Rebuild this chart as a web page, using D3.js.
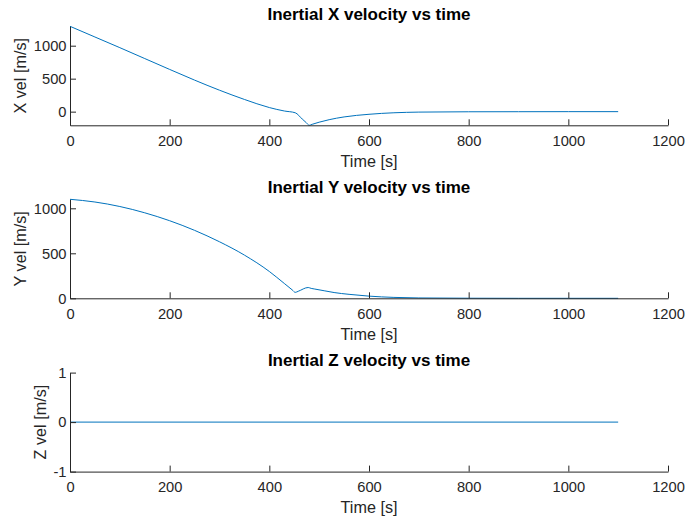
<!DOCTYPE html>
<html>
<head>
<meta charset="utf-8">
<script src="https://cdn.jsdelivr.net/npm/d3@7"></script>
<style>
  body { margin: 0; background: #fff; }
  svg { font-family: "Liberation Sans", Arial, Helvetica, sans-serif; }
</style>
</head>
<body>
<div id="chart"></div>
<script>
// time samples [s]
const xTime = [0, 50, 100, 150, 200, 250, 300, 350, 400, 430, 452, 466, 474, 480, 486, 500, 520, 550, 600, 650, 700, 800, 900, 1000, 1100]
const xVel  = [1294, 1132, 970, 805, 640, 478, 325, 185, 62, 10, -17, -112, -166, -207, -192, -160, -122, -80, -40, -17, -7, -2, -1, 0, 0]

const yTime = [0, 50, 100, 150, 200, 250, 300, 350, 400, 430, 446, 452, 458, 478, 484, 490, 510, 530, 560, 600, 650, 700, 800, 900, 1000, 1100]
const yVel  = [1100, 1070, 1020, 950, 862, 755, 628, 480, 298, 165, 93, 66, 78, 120, 110, 104, 84, 64, 44, 24, 10, 4, 1, 0, 0, 0]

const zTime = [0, 1100]
const zVel  = [0, 0]

const timeTicks = [0, 200, 400, 600, 800, 1000, 1200]
const xVelTicks = [0, 500, 1000]
const yVelTicks = [0, 500, 1000]
const zVelTicks = [-1, 0, 1]

const titles = ['Inertial X velocity vs time', 'Inertial Y velocity vs time', 'Inertial Z velocity vs time']
const yLabels = ['X vel [m/s]', 'Y vel [m/s]', 'Z vel [m/s]']

const width = 686
const height = 525
const left = 70
const right = 668
const plotTops = [26.3, 199.3, 372.6]
const plotH = 99

const axisColor = '#262626'
const lineColor = '#0072BD'
const tickLen = 6

const svg = d3.select('#chart').append('svg')
    .attr('width', width)
    .attr('height', height)

const xScale = d3.scaleLinear().domain([0, 1200]).range([left, right])

function subplot(i, times, vals, ticks){
    const top = plotTops[i]
    const bottom = top + plotH
    let ext = d3.extent(vals)
    if(ext[0] == ext[1]) ext = [ext[0] - 1, ext[1] + 1]
    const yScale = d3.scaleLinear().domain(ext).range([bottom, top])

    const g = svg.append('g').attr('class', 'subplot-' + i)

    // data line
    const line = d3.line()
        .x((d, j) => xScale(times[j]))
        .y(d => yScale(d))
        .curve(d3.curveMonotoneX)
    g.append('path')
        .datum(vals)
        .attr('d', line)
        .attr('fill', 'none')
        .attr('stroke', lineColor)
        .attr('stroke-width', 1)

    // x axis, ticks pointing inward
    const xAxis = g.append('g')
        .attr('transform', `translate(0, ${bottom})`)
        .call(d3.axisBottom(xScale).tickValues(timeTicks).tickFormat(d3.format('d')).tickSizeInner(-tickLen).tickSizeOuter(0))
    xAxis.select('.domain').attr('stroke', axisColor)
    xAxis.selectAll('.tick line').attr('stroke', axisColor)
    xAxis.selectAll('.tick text').attr('fill', axisColor).style('font-size', '14.7px')
        .attr('y', 20.5).attr('dy', 0)

    // y axis
    const yAxis = g.append('g')
        .attr('transform', `translate(${left}, 0)`)
        .call(d3.axisLeft(yScale).tickValues(ticks).tickSizeInner(-tickLen).tickSizeOuter(0))
    yAxis.select('.domain').attr('stroke', axisColor)
    yAxis.selectAll('.tick line').attr('stroke', axisColor)
    yAxis.selectAll('.tick text').attr('fill', axisColor).style('font-size', '14.7px')
        .attr('x', -3.5)
        .text(d => d < 0 ? '-' + Math.abs(d) : d)

    // title
    g.append('text')
        .attr('x', (left + right) / 2)
        .attr('y', top - 6.5)
        .attr('text-anchor', 'middle')
        .style('font-size', '17px')
        .style('font-weight', 'bold')
        .attr('fill', '#000')
        .text(titles[i])

    // x label
    g.append('text')
        .attr('x', (left + right) / 2)
        .attr('y', bottom + 41.5)
        .attr('text-anchor', 'middle')
        .style('font-size', '16.2px')
        .attr('fill', axisColor)
        .text('Time [s]')

    // y label placed beside widest tick label
    let minX = left
    yAxis.selectAll('.tick text').each(function(){
        const b = this.getBBox()
        minX = Math.min(minX, left + b.x)
    })
    g.append('text')
        .attr('transform', `translate(${minX - 7.5}, ${(top + bottom) / 2}) rotate(-90)`)
        .attr('text-anchor', 'middle')
        .style('font-size', '16.2px')
        .attr('fill', axisColor)
        .text(yLabels[i])
}

subplot(0, xTime, xVel, xVelTicks)
subplot(1, yTime, yVel, yVelTicks)
subplot(2, zTime, zVel, zVelTicks)
</script>
</body>
</html>
